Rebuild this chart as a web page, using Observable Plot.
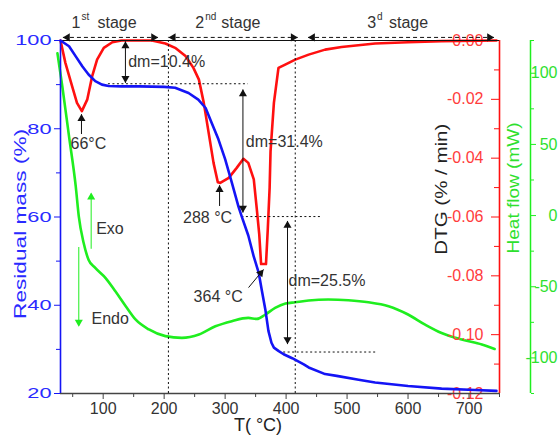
<!DOCTYPE html>
<html><head><meta charset="utf-8">
<script src="https://cdn.jsdelivr.net/npm/d3@7"></script>
<script src="https://cdn.jsdelivr.net/npm/@observablehq/plot@0.6"></script>
<style>
html,body{margin:0;padding:0;background:#fff;}
#chart{position:relative;width:558px;height:436px;overflow:hidden;background:#fff;}
#chart svg{position:absolute;left:0;top:0;}
</style></head><body><div id="chart"></div>
<script>
// ---------- data ----------
const massT = [30,44,55,66,76,87,98,109,130,160,200,218,240,256,268,278,289,300,311,322,328,338,347,355,360,366,371,376,380,388,396,410,429,437,464,483,519,546,600,655,710,745];
const massValues = [100,98.7,96.4,94.1,92.3,90.8,90.0,89.7,89.6,89.6,89.5,89.3,88.1,86.6,84.7,81.3,77.6,73.1,67.8,62.3,59.8,55.8,51.0,47.4,43.5,39.0,34.2,31.5,30.4,29.6,28.9,28.0,26.6,25.9,24.4,24.0,23.1,22.5,21.7,21.1,20.8,20.6];

const dtgT = [30,38,49,57,65,74,82,90,101,115,130,180,202,218,235,248,257,265,273,281,288,292,306,319,330,338,347,352,356,359,367,370,373,374.5,380,387.5,398.5,415,437,464,491,546,600,655,745];
const dtgValues = [0,-0.0076,-0.0155,-0.0212,-0.024,-0.020,-0.0121,-0.0065,-0.0025,-0.0006,0,0,-0.001,-0.0025,-0.0053,-0.0093,-0.0133,-0.0212,-0.0314,-0.0416,-0.0482,-0.0484,-0.0467,-0.0433,-0.0402,-0.0416,-0.0472,-0.0574,-0.066,-0.076,-0.076,-0.064,-0.05,-0.0376,-0.0212,-0.0093,-0.0082,-0.0065,-0.0048,-0.0031,-0.0022,-0.001,-0.0006,-0.0002,0];

const hfT = [25,33,44,55,60,68,76,87,104,120,137,153,175,202,229,257,284,311,338,352,366,382,399,415,437,469,502,535,568,600,628,655,688,721,742];
const hfValues = [114,90.7,55.6,20.5,-0.6,-19.3,-31,-36.8,-43.9,-53.2,-63.7,-73,-80,-84.7,-85.9,-83.6,-77.8,-74.2,-71.9,-72.6,-69.5,-64.9,-61.8,-60.9,-59.7,-59,-59.5,-60.9,-63.7,-69.5,-76.6,-82.5,-87.1,-90.6,-93.7];

const xTicks = [100,200,300,400,500,600,700];
const xMinorTicks = [50,150,250,350,450,550,650,750];
const massTicks = [20,40,60,80,100];
const massMinorTicks = [30,50,70,90];
const dtgTicks = [0,-0.02,-0.04,-0.06,-0.08,-0.10,-0.12];
const dtgMinorTicks = [-0.01,-0.03,-0.05,-0.07,-0.09,-0.11];
const hfTicks = [100,50,0,-50,-100];
const hfMinorTicks = [123,75,25,-25,-75,-125];

const xLabel = "T( °C)";
const massLabel = "Residual mass (%)";
const dtgLabel = "DTG (% / min)";
const hfLabel = "Heat flow (mW)";

// annotations (data units: T in °C, v in the layer's own unit)
const stageNums = [{num:"1", sup:"st", T:62.8, Tword:90.6}, {num:"2", sup:"nd", T:265.8, Tword:293.7}, {num:"3", sup:"d", T:547.5, Tword:568.8}];
const stageWord = "stage";
const stageRanges = [{T0:34, T1:190}, {T0:207.5, T1:419}, {T0:436, T1:741}];
const stageBounds = [207, 415];
const dmTexts = [
  {label:"dm=10.4%", T:141, v:95.1},
  {label:"66°C", T:46.4, v:76.5},
  {label:"dm=31.4%", T:334, v:77},
  {label:"288 °C", T:231, v:59.8},
  {label:"364 °C", T:248.3, v:41.9},
  {label:"dm=25.5%", T:404, v:45.5}
];
const dmArrows = [{T:136.5, top:99.8, bottom:90.4},{T:329.2, top:88.9, bottom:61.0},{T:402.3, top:59.1, bottom:31.2}];
const peakArrows = [{T1:64.4, v1:78.8, T2:64.4, v2:83.3},{T1:290.9, v1:62.5, T2:290.9, v2:67.2}];
const diagArrow = [{T1:338.4, v1:44.0, T2:363, v2:48.1}];
const dottedH = [{v:90.2, T1:108.6, T2:338},{v:60.1, T1:327.5, T2:458.7},{v:29.4, T1:396, T2:551}];
const exoEndoTexts = [{label:"Exo", T:88.5, v:57.4},{label:"Endo", T:80.8, v:37.0}];
const exoArrow = [{T:80.3, v1:52.8, v2:65.3}];
const endoArrow = [{T:60, v1:53.2, v2:35.4}];
const massLabelPos = {T:30, v:36.9};
const dtgLabelPos = {T:750, v:-0.0728};
const hfLabelPos = {T:750, v:-26.6};

// ---------- styling ----------
const blue="#1414f5", blueText="#2a2aff", red="#ff1010", redText="#ff3c3c", green="#1fee1f", greenText="#2ee02e", ink="#333", dark="#111";
const font="'Liberation Sans', Arial, Helvetica, sans-serif";
const xDomain=[30,750];
function base(extra){
  return Object.assign({width:558,height:436,marginLeft:60,marginRight:59,marginTop:40,marginBottom:43,
    style:{fontFamily:font,fontSize:"16px",background:"transparent",overflow:"visible"}}, extra);
}
const mass = massT.map((T,i)=>({T, v:massValues[i]}));
const dtg = dtgT.map((T,i)=>({T, v:dtgValues[i]}));
const hf = hfT.map((T,i)=>({T, v:hfValues[i]}));
const stageY = 100.7, stageTextY = 104.1;

// ---------- heat flow (green) layer ----------
const pHF = Plot.plot(base({
  x:{domain:xDomain, axis:null},
  y:{domain:[-125,123], label:null},
  marks:[
    Plot.ruleX([750], {dx:31, stroke:green, strokeWidth:1.5}),
    Plot.axisY({anchor:"right", dx:31, ticks:hfTicks, tickSize:5, tickFormat:()=>"", color:green, label:null}),
    Plot.axisY({anchor:"right", dx:31, ticks:hfMinorTicks, tickSize:3, tickFormat:()=>"", color:green, label:null}),
    Plot.text(hfTicks, {x:()=>750, y:d=>d, text:d=>String(d), dx:58, textAnchor:"end", fill:greenText, fontSize:16}),
    Plot.line(hf, {x:"T", y:"v", stroke:green, strokeWidth:2.6, curve:"monotone-x"}),
    Plot.text([hfLabelPos], {x:"T", y:"v", text:()=>hfLabel, dx:14, rotate:-90, textAnchor:"start", lineAnchor:"middle", fill:greenText, fontSize:16})
  ]
}));

// ---------- DTG (red) layer ----------
const pDTG = Plot.plot(base({
  x:{domain:xDomain, axis:null},
  y:{domain:[-0.12,0], label:null},
  marks:[
    Plot.ruleX([750], {stroke:red, strokeWidth:1.6}),
    Plot.axisY({anchor:"left", dx:439, ticks:dtgTicks, tickSize:8, tickPadding:8, tickFormat:d=>d.toFixed(2), color:red, fill:redText, fontSize:16, label:null}),
    Plot.axisY({anchor:"left", dx:439, ticks:dtgMinorTicks, tickSize:5, tickFormat:()=>"", color:red, label:null}),
    Plot.line(dtg, {x:"T", y:"v", stroke:red, strokeWidth:2.6}),
    Plot.text([dtgLabelPos], {x:"T", y:"v", text:()=>dtgLabel, dx:-58, rotate:-90, textAnchor:"start", lineAnchor:"middle", fill:"#222", fontSize:16})
  ]
}));

// ---------- mass (blue) layer + frame + annotations ----------
function heads(data, xk, yk, rot, ddx, ddy, fill){
  return Plot.dot(data, {x:xk, y:yk, symbol:"triangle", r:3, rotate:rot, dx:ddx, dy:ddy, fill, stroke:"none"});
}
const pMass = Plot.plot(base({
  x:{domain:xDomain, label:null},
  y:{domain:[20,100], label:null},
  marks:[
    Plot.ruleY([100], {stroke:dark, strokeWidth:1.2}),
    Plot.ruleY([20], {stroke:"#444", strokeWidth:1.3}),
    Plot.ruleX(stageBounds, {y1:20, y2:stageY, stroke:dark, strokeDasharray:"2,2.5", strokeWidth:1}),
    Plot.ruleY(dottedH, {y:"v", x1:"T1", x2:"T2", stroke:dark, strokeDasharray:"2,2.5", strokeWidth:1}),
    Plot.ruleX([30], {stroke:blue, strokeWidth:1.6}),
    Plot.axisX({ticks:xTicks, tickSize:6, tickPadding:3, color:"#444", fill:ink, fontSize:16, label:null}),
    Plot.axisX({ticks:xMinorTicks, tickSize:4, tickFormat:()=>"", color:"#444", label:null}),
    Plot.axisY({ticks:massTicks, tickSize:6, tickPadding:3, color:blue, fill:blueText, fontSize:15, label:null}),
    Plot.axisY({ticks:massMinorTicks, tickSize:4, tickFormat:()=>"", color:blue, label:null}),
    Plot.line(mass, {x:"T", y:"v", stroke:blue, strokeWidth:2.6}),
    // stage arrows
    Plot.link(stageRanges, {x1:"T0", x2:"T1", y1:()=>stageY, y2:()=>stageY, stroke:dark, strokeDasharray:"4,3", strokeWidth:1}),
    heads(stageRanges, "T0", ()=>stageY, -90, 4.5, 0, dark),
    heads(stageRanges, "T1", ()=>stageY, 90, -4.5, 0, dark),
    Plot.text(stageNums, {x:"T", y:()=>stageTextY, text:"num", textAnchor:"end", fill:ink, fontSize:16}),
    Plot.text(stageNums, {x:"T", y:()=>stageTextY, text:"sup", textAnchor:"start", dx:1, dy:-6, fill:ink, fontSize:10}),
    Plot.text(stageNums, {x:"Tword", y:()=>stageTextY, text:()=>stageWord, textAnchor:"start", fill:ink, fontSize:16}),
    // dm arrows
    Plot.link(dmArrows, {x1:"T", x2:"T", y1:"bottom", y2:"top", stroke:dark, strokeWidth:1}),
    heads(dmArrows, "T", "top", 0, 0, 4.5, dark),
    heads(dmArrows, "T", "bottom", 180, 0, -4.5, dark),
    Plot.link(peakArrows, {x1:"T1", y1:"v1", x2:"T2", y2:"v2", stroke:dark, strokeWidth:1}),
    heads(peakArrows, "T2", "v2", 0, 0, 4.5, dark),
    Plot.link(diagArrow, {x1:"T1", y1:"v1", x2:"T2", y2:"v2", stroke:dark, strokeWidth:1}),
    heads(diagArrow, "T2", "v2", 39, -2.9, 3.5, dark),
    Plot.text(dmTexts, {x:"T", y:"v", text:"label", textAnchor:"start", fill:ink, fontSize:16}),
    // exo / endo
    Plot.link(exoArrow, {x1:"T", x2:"T", y1:"v1", y2:"v2", stroke:green, strokeWidth:1}),
    heads(exoArrow, "T", "v2", 0, 0, 3.5, green),
    Plot.link(endoArrow, {x1:"T", x2:"T", y1:"v1", y2:"v2", stroke:green, strokeWidth:1}),
    heads(endoArrow, "T", "v2", 180, 0, -3.5, green),
    Plot.text(exoEndoTexts, {x:"T", y:"v", text:"label", textAnchor:"start", fill:ink, fontSize:16}),
    // axis titles
    Plot.text([xLabel], {frameAnchor:"bottom", dx:-22, dy:37, fill:"#222", fontSize:18}),
    Plot.text([massLabelPos], {x:"T", y:"v", text:()=>massLabel, dx:-40, rotate:-90, textAnchor:"start", lineAnchor:"middle", fill:blueText, fontSize:16})
  ]
}));

const chart = document.getElementById("chart");
chart.append(pHF, pDTG, pMass);

// stretch texts to the reference proportions
function fit(svg, pred, lenFn){
  d3.select(svg).selectAll("text").each(function(){
    if (!pred(this)) return;
    const L = this.getComputedTextLength();
    this.setAttribute("textLength", lenFn(L));
    this.setAttribute("lengthAdjust", "spacingAndGlyphs");
  });
}
fit(pMass, t => t.textContent === massLabel, () => 190);
fit(pDTG, t => t.textContent === dtgLabel, () => 131);
fit(pHF, t => t.textContent === hfLabel, () => 131);
fit(pMass, t => t.closest('g[aria-label="y-axis tick label"]') !== null, L => L * 1.45);
</script></body></html>
